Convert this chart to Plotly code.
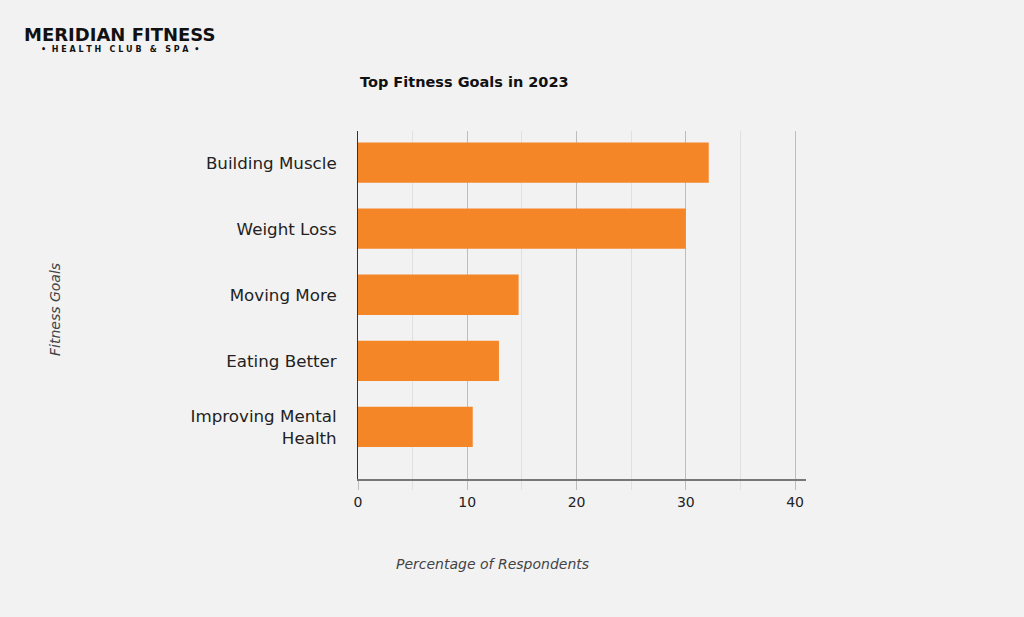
import plotly.graph_objects as go

categories = ["Building Muscle", "Weight Loss", "Moving More", "Eating Better", "Improving Mental<br>Health"]
values = [32.1, 30.0, 14.7, 12.9, 10.5]
x_ticks = [0, 10, 20, 30, 40]
minor_ticks = [5, 15, 25, 35]

W, H = 1024, 617
L, R, T, B = 358, 218, 131, 138
PH = H - T - B
PW = W - L - R
FONT = "DejaVu Sans"

fig = go.Figure(go.Bar(
    x=values, y=categories, orientation="h",
    marker=dict(color="#F58628", line=dict(width=0)),
    width=0.61,
))

fig.update_layout(
    width=W, height=H,
    margin=dict(l=L, r=R, t=T, b=B),
    paper_bgcolor="#F2F2F2", plot_bgcolor="#F2F2F2",
    font=dict(family=FONT, color="#222"),
    showlegend=False,
)
fig.update_xaxes(
    range=[0, 41], tickvals=x_ticks, ticktext=[str(t) for t in x_ticks],
    showgrid=True, gridcolor="#BDBDBD", gridwidth=1,
    minor=dict(tickvals=minor_ticks, showgrid=True, gridcolor="#E0E0E0", gridwidth=1,
               ticks="outside", ticklen=9, tickcolor="#E0E0E0"),
    showline=True, linecolor="#777", linewidth=2,
    ticks="outside", ticklen=9, tickcolor="#BDBDBD",
    tickfont=dict(size=14, color="#222"), zeroline=False,
)
fig.update_yaxes(
    categoryorder="array", categoryarray=categories,
    range=[4.79, -0.48],
    showline=True, linecolor="#333", linewidth=1,
    showgrid=False, ticks="", ticklabelstandoff=17,
    tickfont=dict(size=16.7, color="#222"),
)

fig.add_annotation(text="<b>Top Fitness Goals in 2023</b>", xref="paper", yref="paper",
                   x=0, y=1 + (T - 82) / PH, xanchor="left", yanchor="middle",
                   showarrow=False, font=dict(size=14.5, color="#111", family=FONT))
fig.add_annotation(text="<i>Percentage of Respondents</i>", xref="paper", yref="paper",
                   x=(492 - L) / PW, y=-(564 - 479) / PH,
                   xanchor="center", yanchor="middle", showarrow=False,
                   font=dict(size=14, color="#444", family=FONT))
fig.add_annotation(text="<i>Fitness Goals</i>", xref="paper", yref="paper",
                   x=-(L - 55) / PW, y=(479 - 310) / PH,
                   xanchor="center", yanchor="middle", textangle=-90, showarrow=False,
                   font=dict(size=14, color="#444", family=FONT))
# logo
fig.add_annotation(text="<b>MERIDIAN FITNESS</b>", xref="paper", yref="paper",
                   x=-(L - 22) / PW, y=1 + (T - 34) / PH,
                   xanchor="left", yanchor="middle", showarrow=False,
                   font=dict(size=18, color="#111", family=FONT))
fig.add_annotation(text="<b>•  H E A L T H   C L U B   &   S P A  •</b>", xref="paper", yref="paper",
                   x=-(L - 120) / PW, y=1 + (T - 49.5) / PH,
                   xanchor="center", yanchor="middle", showarrow=False,
                   font=dict(size=8, color="#111", family=FONT))

fig.write_html("out.html")
